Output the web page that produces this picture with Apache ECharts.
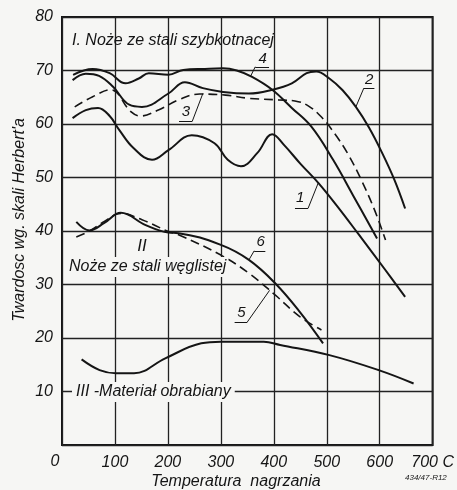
<!DOCTYPE html>
<html>
<head>
<meta charset="utf-8">
<script src="https://cdn.jsdelivr.net/npm/echarts@6/dist/echarts.min.js"></script>
<style>
  html, body { margin: 0; padding: 0; background: #f6f6f4; }
  #main { width: 457px; height: 490px; }
</style>
</head>
<body>
<div id="main"></div>
<script>
// temperatura nagrzania (C) / twardosc
var c1_T = [20, 45, 68, 90, 108, 135, 170, 201, 245, 288, 313, 338, 369, 397, 420, 450, 484, 520, 560, 610, 648];
var c1_H = [61.1, 62.6, 63.0, 61.5, 58.9, 55.5, 53.3, 55.1, 57.9, 56.4, 53.3, 52.1, 54.6, 58.1, 56.0, 52.6, 49.0, 44.6, 39.4, 32.8, 27.7];

var c2_T = [20, 45, 70, 96, 127, 151, 201, 232, 266, 304, 353, 397, 434, 462, 480, 505, 530, 555, 580, 605, 628, 648];
var c2_H = [68.2, 69.4, 69.0, 67.0, 63.6, 63.2, 65.7, 67.8, 66.7, 66.0, 65.7, 66.4, 67.6, 69.5, 69.8, 68.5, 66.3, 63.2, 59.3, 54.5, 49.5, 44.2];

var c3_T = [24, 58, 92, 130, 148, 182, 220, 260, 309, 353, 409, 440, 465, 490, 515, 540, 565, 590, 611];
var c3_H = [63.2, 65.1, 66.4, 62.3, 61.5, 62.6, 64.5, 65.6, 65.4, 64.8, 64.5, 64.3, 63.4, 61.3, 58.2, 54.4, 49.6, 44.0, 38.3];

var c4_T = [21, 58, 90, 120, 145, 164, 201, 229, 270, 304, 330, 359, 397, 434, 471, 512, 550, 595];
var c4_H = [69.2, 70.3, 69.5, 67.6, 68.5, 69.5, 69.2, 70.1, 70.3, 70.4, 70.0, 68.8, 66.4, 63.0, 59.5, 53.3, 46.6, 38.6];

var c5_T = [27, 52, 80, 111, 151, 201, 220, 300, 353, 403, 449, 490];
var c5_H = [38.9, 40.0, 41.8, 43.3, 42.1, 39.9, 39.3, 35.5, 32.1, 28.0, 24.0, 21.5];

var c6_T = [27, 52, 80, 111, 158, 201, 220, 300, 353, 403, 449, 493];
var c6_H = [41.7, 40.1, 41.5, 43.4, 41.1, 39.7, 39.6, 37.4, 34.6, 30.2, 24.9, 19.0];

var c7_T = [37, 71, 102, 136, 195, 263, 300, 381, 412, 505, 598, 664];
var c7_H = [16.0, 14.0, 13.4, 13.4, 16.2, 19.0, 19.3, 19.3, 18.7, 16.8, 14.0, 11.5];

var xTicks = [100, 200, 300, 400, 500, 600, 700];
var yTicks = [10, 20, 30, 40, 50, 60, 70, 80];

// curve number tags: text, point on curve, underline [T1, T2, H], text position
var tags = {
    c1: { txt: '1', pt: [484, 49.0], under: [440, 465, 44.3], at: [450, 46.2] },
    c2: { txt: '2', pt: [555, 63.2], under: [570, 590, 66.7], at: [580, 68.2] },
    c3: { txt: '3', pt: [266, 65.7], under: [221, 246, 60.5], at: [234, 62.3] },
    c4: { txt: '4', pt: [356, 68.9], under: [365, 391, 70.7], at: [379, 72.2] },
    c5: { txt: '5', pt: [392, 28.9], under: [326, 350, 23.0], at: [339, 24.7] },
    c6: { txt: '6', pt: [353, 34.6], under: [363, 384, 36.3], at: [375, 38.0] }
};

var INK = '#151515';
var FONT = 'Liberation Sans';

function pairs(xs, ys) {
    return xs.map(function (x, i) { return [x, ys[i]]; });
}

function tagMarks(tag) {
    // leader goes from the underline end nearest the curve
    var u = tag.under;
    var endT = Math.abs(u[0] - tag.pt[0]) < Math.abs(u[1] - tag.pt[0]) ? u[0] : u[1];
    return {
        markLine: {
            silent: true,
            symbol: 'none',
            animation: false,
            lineStyle: { color: INK, width: 1, type: 'solid' },
            label: { show: false },
            data: [
                [{ coord: [u[0], u[2]] }, { coord: [u[1], u[2]] }],
                [{ coord: [endT, u[2]] }, { coord: tag.pt }]
            ]
        },
        markPoint: {
            silent: true,
            symbol: 'circle',
            symbolSize: 1,
            itemStyle: { color: 'rgba(0,0,0,0)' },
            label: {
                show: true, position: 'inside', formatter: tag.txt,
                color: INK, fontStyle: 'italic', fontSize: 15, fontFamily: FONT
            },
            data: [{ coord: tag.at }]
        }
    };
}

function curve(name, xs, ys, dashed, width) {
    var s = {
        name: name,
        type: 'line',
        data: pairs(xs, ys),
        smooth: 0.4,
        showSymbol: false,
        symbol: 'none',
        lineStyle: { color: INK, width: width || 2, type: dashed ? [9, 5] : 'solid' },
        z: 3
    };
    if (tags[name]) {
        var m = tagMarks(tags[name]);
        s.markLine = m.markLine;
        s.markPoint = m.markPoint;
    }
    return s;
}

var chart = echarts.init(document.getElementById('main'));

var option = {
    backgroundColor: '#f6f6f4',
    animation: false,
    grid: {
        left: 62, right: 19, top: 17, bottom: 45,
        show: true, borderColor: INK, borderWidth: 2, backgroundColor: 'transparent'
    },
    xAxis: {
        type: 'value', min: 0, max: 700, interval: 100,
        axisLine: { show: false },
        axisTick: { show: false },
        splitLine: { show: true, lineStyle: { color: '#222', width: 1.3 } },
        axisLabel: {
            margin: 10, color: INK, fontSize: 16, fontStyle: 'italic', fontFamily: FONT,
            formatter: function (v) {
                if (xTicks.indexOf(v) < 0) return '';
                return v === 700 ? '700 C' : String(v);
            }
        }
    },
    yAxis: {
        type: 'value', min: 0, max: 80, interval: 10,
        axisLine: { show: false },
        axisTick: { show: false },
        splitLine: { show: true, lineStyle: { color: '#222', width: 1.3 } },
        axisLabel: {
            margin: 9, color: INK, fontSize: 16, fontStyle: 'italic', fontFamily: FONT,
            formatter: function (v) { return yTicks.indexOf(v) < 0 ? '' : String(v); }
        }
    },
    graphic: [
        { type: 'text', left: 72, top: 33, z: 10,
          style: { text: 'I. Noże ze stali szybkotnacej', fill: INK, font: 'italic 16px ' + FONT } },
        { type: 'text', x: 142, y: 246, z: 10,
          style: { text: 'II', fill: INK, font: 'italic 17px ' + FONT, align: 'center', verticalAlign: 'middle' } },
        { type: 'text', x: 67, y: 267, z: 10,
          style: { text: 'Noże ze stali węglistej', fill: INK, font: 'italic 16px ' + FONT,
                   verticalAlign: 'middle', backgroundColor: '#f6f6f4', padding: [2, 2] } },
        { type: 'text', x: 72, y: 392, z: 10,
          style: { text: 'III -Materiał obrabiany', fill: INK, font: 'italic 16px ' + FONT,
                   verticalAlign: 'middle', backgroundColor: '#f6f6f4', padding: [2, 4] } },
        // the 0 of the temperature scale sits left of the corner
        { type: 'text', x: 55, y: 462, z: 10,
          style: { text: '0', fill: INK, font: 'italic 16px ' + FONT, align: 'center', verticalAlign: 'middle' } },
        { type: 'text', x: 20, y: 220, rotation: Math.PI / 2, z: 10,
          style: { text: "Twardosc wg. skali Herbert'a", fill: INK, font: 'italic 16px ' + FONT,
                   align: 'center', verticalAlign: 'middle' } },
        { type: 'text', x: 236, y: 482, z: 10,
          style: { text: 'Temperatura  nagrzania', fill: INK, font: 'italic 16px ' + FONT,
                   align: 'center', verticalAlign: 'middle' } },
        { type: 'text', x: 405, y: 478, z: 10,
          style: { text: '434/47-R12', fill: INK, font: 'italic 8px ' + FONT, verticalAlign: 'middle' } }
    ],
    series: [
        curve('c1', c1_T, c1_H, false),
        curve('c2', c2_T, c2_H, false),
        curve('c3', c3_T, c3_H, true, 1.6),
        curve('c4', c4_T, c4_H, false),
        curve('c5', c5_T, c5_H, true, 1.6),
        curve('c6', c6_T, c6_H, false),
        curve('c7', c7_T, c7_H, false)
    ]
};

chart.setOption(option);
</script>
</body>
</html>
